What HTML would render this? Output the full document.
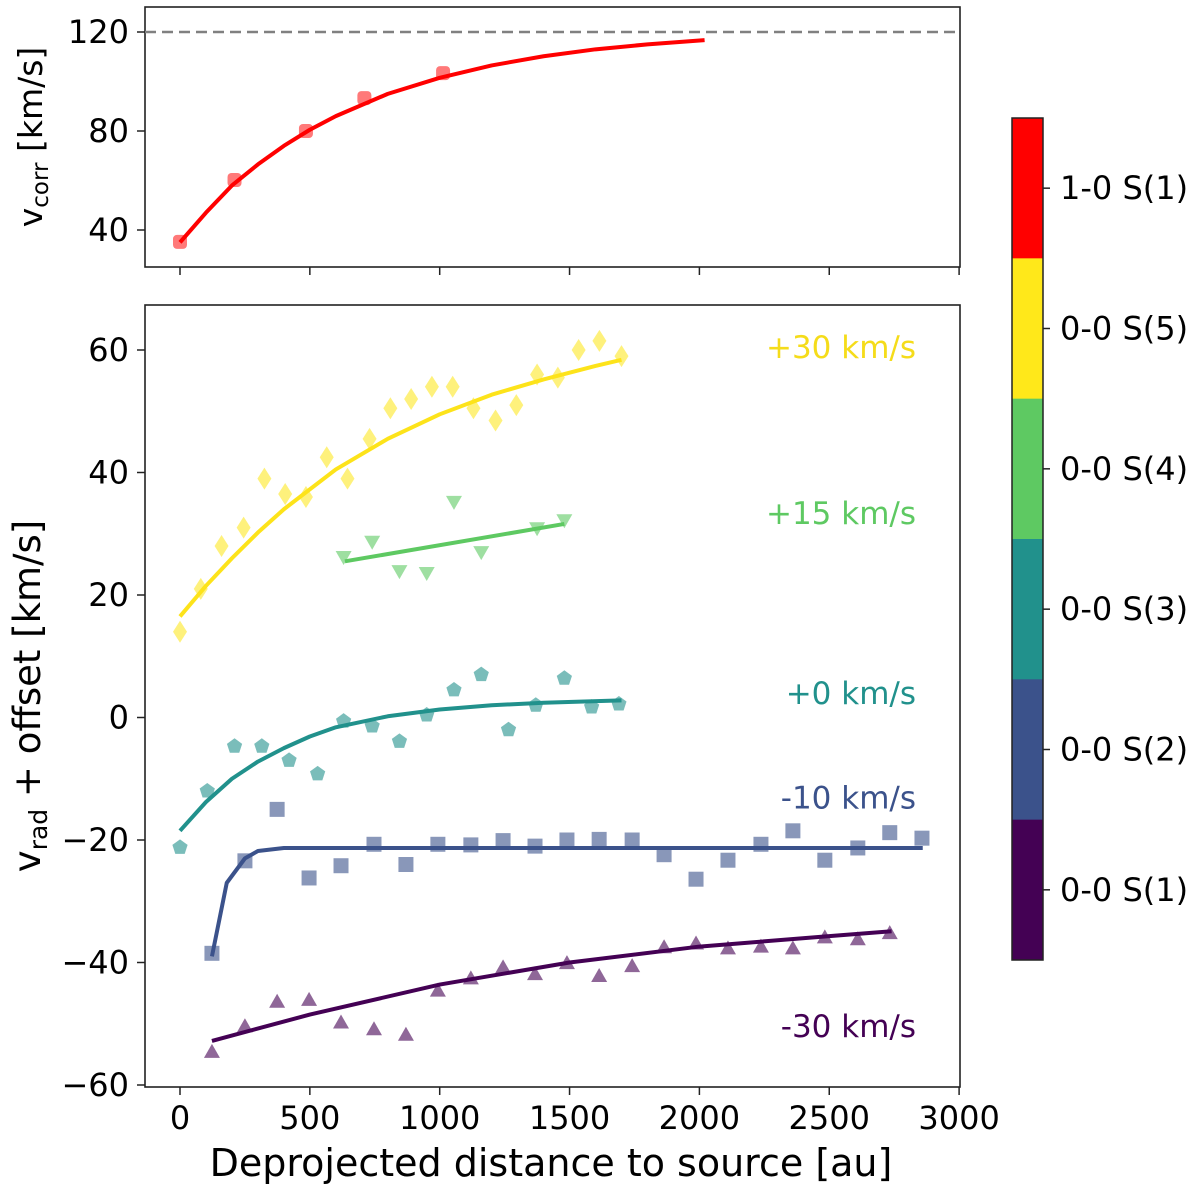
<!DOCTYPE html>
<html><head><meta charset="utf-8">
<style>
html,body{margin:0;padding:0;background:#fff;}
svg{display:block;font-family:"DejaVu Sans","Liberation Sans",sans-serif;}
</style></head>
<body>
<svg id="chart" width="1200" height="1191" viewBox="0 0 1200 1191"></svg>
<script>
// ---- data ----
const topX = [0, 210, 485, 710, 1013];
const topY = [35.2, 60.2, 80, 93.3, 103.4];
const topFitX = [0, 100, 200, 300, 400, 500, 600, 800, 1000, 1200, 1400, 1600, 1800, 2020];
const topFitY = [35, 47, 58, 66.5, 74, 80.5, 86, 95, 101.5, 106.5, 110.2, 113, 115, 116.7];
const topLimit = 120;

const s5X = [0,80,160,245,325,405,485,565,645,730,810,890,970,1050,1130,1215,1295,1375,1455,1535,1615,1700];
const s5Y = [14,21,28,31,39,36.5,36,42.5,39,45.5,50.5,52,54,54,50.5,48.5,51,56,55.5,60,61.5,59];
const s5FitX = [0,100,200,300,400,600,800,1000,1200,1400,1600,1700];
const s5FitY = [16.5,21.5,26,30.2,34,40.5,45.5,49.5,52.7,55.2,57.4,58.4];

const s4X = [630,740,845,950,1055,1160,1375,1480];
const s4Y = [26.2,28.7,23.9,23.6,35.2,27.0,30.9,32.2];
const s4FitX = [635,1480];
const s4FitY = [25.5,31.6];

const s3X = [0,105,210,315,420,530,630,740,845,950,1055,1160,1265,1370,1480,1585,1690];
const s3Y = [-21.2,-12,-4.7,-4.7,-7,-9.2,-0.6,-1.4,-3.9,0.4,4.5,7,-2,2,6.4,1.7,2.2];
const s3FitX = [0,100,200,300,400,500,600,800,1000,1200,1400,1700];
const s3FitY = [-18.5,-13.8,-10,-7.2,-5,-3.1,-1.6,0.2,1.3,2,2.4,2.8];

const s2X = [123,250,374,497,620,747,870,993,1120,1244,1367,1490,1614,1741,1864,1987,2110,2237,2360,2483,2610,2733,2857];
const s2Y = [-38.5,-23.4,-15,-26.2,-24.2,-20.7,-24,-20.7,-20.8,-20.1,-21,-20,-19.9,-20,-22.4,-26.4,-23.3,-20.7,-18.5,-23.3,-21.3,-18.8,-19.7];
const s2FitX = [123,180,250,300,400,2860];
const s2FitY = [-39,-27,-23,-21.8,-21.3,-21.3];

const s1X = [123,250,374,497,620,747,870,993,1120,1244,1367,1490,1614,1741,1864,1987,2110,2237,2360,2483,2610,2733];
const s1Y = [-54.6,-50.4,-46.4,-46.1,-49.8,-50.9,-51.8,-44.6,-42.6,-40.8,-41.9,-40.1,-42.2,-40.6,-37.5,-36.9,-37.7,-37.4,-37.7,-35.9,-36.2,-35.2];
const s1FitX = [123,500,1000,1500,2000,2500,2740];
const s1FitY = [-52.8,-48.5,-43.6,-40,-37.4,-35.7,-34.9];

const xTicks = [0,500,1000,1500,2000,2500,3000];
const topYTicks = [40,80,120];
const botYTicks = [-60,-40,-20,0,20,40,60];
const cbLabels = ["1-0 S(1)","0-0 S(5)","0-0 S(4)","0-0 S(3)","0-0 S(2)","0-0 S(1)"];
const offsetLabels = ["+30 km/s","+15 km/s","+0 km/s","-10 km/s","-30 km/s"];
const offsetLabelY = [60.5,33.4,4,-13.1,-50.4];

// ---- scales ----
const NS="http://www.w3.org/2000/svg";
const svg=document.getElementById('chart');
const X0=145,X1=960;
const xs=v=>180+v*0.2597;
const yTop=v=>32+(120-v)*2.475;
const yBot=v=>717.5-v*6.125;
function mk(tag,attrs,parent){const e=document.createElementNS(NS,tag);for(const k in attrs)e.setAttribute(k,attrs[k]);(parent||svg).appendChild(e);return e;}
function txt(s,attrs,parent){const e=mk('text',attrs,parent);e.textContent=s;return e;}

function axes(name,y0,y1,yf,yt){
  const g=mk('g',{});
  
  
  const r=mk('rect',{x:X0,y:y0,width:X1-X0,height:y1-y0,fill:'none',stroke:'#222','stroke-width':1.6},g);
  
  
  xTicks.forEach(t=>{mk('line',{x1:xs(t),x2:xs(t),y1:y1,y2:y1+8,stroke:'#222','stroke-width':1.5},g);});
  yt.forEach(t=>{
    mk('line',{x1:X0,x2:X0-8,y1:yf(t),y2:yf(t),stroke:'#222','stroke-width':1.5},g);
    const l=txt(t<0?'\u2212'+(-t):String(t),{x:X0-16,y:yf(t)+11,'text-anchor':'end','font-size':32,fill:'#000'},g);
    
    
  });
  return g;
}
function line(xa,ya,xf,yf,color,w,name){
  const p=mk('polyline',{points:xa.map((x,i)=>xf(x)+','+yf(ya[i])).join(' '),fill:'none',stroke:color,'stroke-width':w,'stroke-linejoin':'round'});
  
  
}
function marker(shape,cx,cy,color){
  let e; const s=8;
  if(shape==='diamond') e=mk('polygon',{points:`${cx},${cy-11} ${cx+7},${cy} ${cx},${cy+11} ${cx-7},${cy}`});
  else if(shape==='tdown') e=mk('polygon',{points:`${cx-s},${cy-6} ${cx+s},${cy-6} ${cx},${cy+8}`});
  else if(shape==='tup') e=mk('polygon',{points:`${cx-s},${cy+6} ${cx+s},${cy+6} ${cx},${cy-8}`});
  else if(shape==='square') e=mk('rect',{x:cx-7.5,y:cy-7.5,width:15,height:15});
  else if(shape==='rsquare') e=mk('rect',{x:cx-7,y:cy-7,width:14,height:14,rx:4});
  else { const pts=[];for(let k=0;k<5;k++){const a=-Math.PI/2+k*2*Math.PI/5;pts.push((cx+8*Math.cos(a))+','+(cy+8*Math.sin(a)));} e=mk('polygon',{points:pts.join(' ')}); }
  e.setAttribute('fill',color); e.setAttribute('fill-opacity',0.6);
  return e;
}
function points(xa,ya,yf,shape,color,name){
  xa.forEach((x,i)=>{const e=marker(shape,xs(x),yf(ya[i]),color);
    
    });
}

// top panel
axes('top-axes',7,267,yTop,topYTicks);
const dl=mk('line',{x1:X0,x2:X1,y1:yTop(topLimit),y2:yTop(topLimit),stroke:'#808080','stroke-width':2.5,'stroke-dasharray':'11,6'});


points(topX,topY,yTop,'rsquare','#ff2020','top-point');
line(topFitX,topFitY,xs,yTop,'#ff0000',4,'top-fit-line');
const tl=txt('',{transform:'translate(42,137) rotate(-90)','text-anchor':'middle','font-size':33,fill:'#000'});
tl.innerHTML='v<tspan font-size="23" dy="6">corr</tspan><tspan dy="-6"> [km/s]</tspan>';



// bottom panel
axes('bottom-axes',305,1087,yBot,botYTicks);
xTicks.forEach(t=>{const l=txt(String(t),{x:xs(t),y:1129,'text-anchor':'middle','font-size':32,fill:'#000'});
  
  });
const xt=txt('Deprojected distance to source [au]',{x:551,y:1176,'text-anchor':'middle','font-size':38,fill:'#000'});


const yl=txt('',{transform:'translate(40,696) rotate(-90)','text-anchor':'middle','font-size':37,fill:'#000'});
yl.innerHTML='v<tspan font-size="25" dy="7">rad</tspan><tspan dy="-7"> + offset [km/s]</tspan>';



const cols=['#ffe81a','#5ec962','#21918c','#3b528b','#440154'];
const mcols=['#fde725','#5ec962','#21918c','#3b528b','#440154'];
points(s5X,s5Y,yBot,'diamond',mcols[0],'s5-point');
line(s5FitX,s5FitY,xs,yBot,'#fde31a',4,'s5-fit-line');
points(s4X,s4Y,yBot,'tdown',mcols[1],'s4-point');
line(s4FitX,s4FitY,xs,yBot,cols[1],4,'s4-fit-line');
points(s3X,s3Y,yBot,'pent',mcols[2],'s3-point');
line(s3FitX,s3FitY,xs,yBot,cols[2],4,'s3-fit-line');
points(s2X,s2Y,yBot,'square',mcols[3],'s2-point');
line(s2FitX,s2FitY,xs,yBot,cols[3],4,'s2-fit-line');
points(s1X,s1Y,yBot,'tup',mcols[4],'s1-point');
line(s1FitX,s1FitY,xs,yBot,cols[4],4,'s1-fit-line');
offsetLabels.forEach((s,i)=>{const l=txt(s,{x:916,y:yBot(offsetLabelY[i])+11,'text-anchor':'end','font-size':31,fill:i===0?'#f5dc1a':cols[i]});
  
  });

// colorbar
const cbc=['#ff0000','#ffe81a','#5ec962','#21918c','#3b528b','#440154'];
const cbTop=118,cbH=842/6;
cbc.forEach((c,i)=>{const r=mk('rect',{x:1012,y:cbTop+i*cbH,width:31,height:cbH+0.5,fill:c});
  
  
  mk('line',{x1:1043,x2:1050,y1:cbTop+(i+0.5)*cbH,y2:cbTop+(i+0.5)*cbH,stroke:'#222','stroke-width':1.5});
  const l=txt(cbLabels[i],{x:1060,y:cbTop+(i+0.5)*cbH+11,'font-size':32,fill:'#000'});
  
  });
const cf=mk('rect',{x:1012,y:cbTop,width:31,height:842,fill:'none',stroke:'#222','stroke-width':1.5});


</script>
</body></html>
